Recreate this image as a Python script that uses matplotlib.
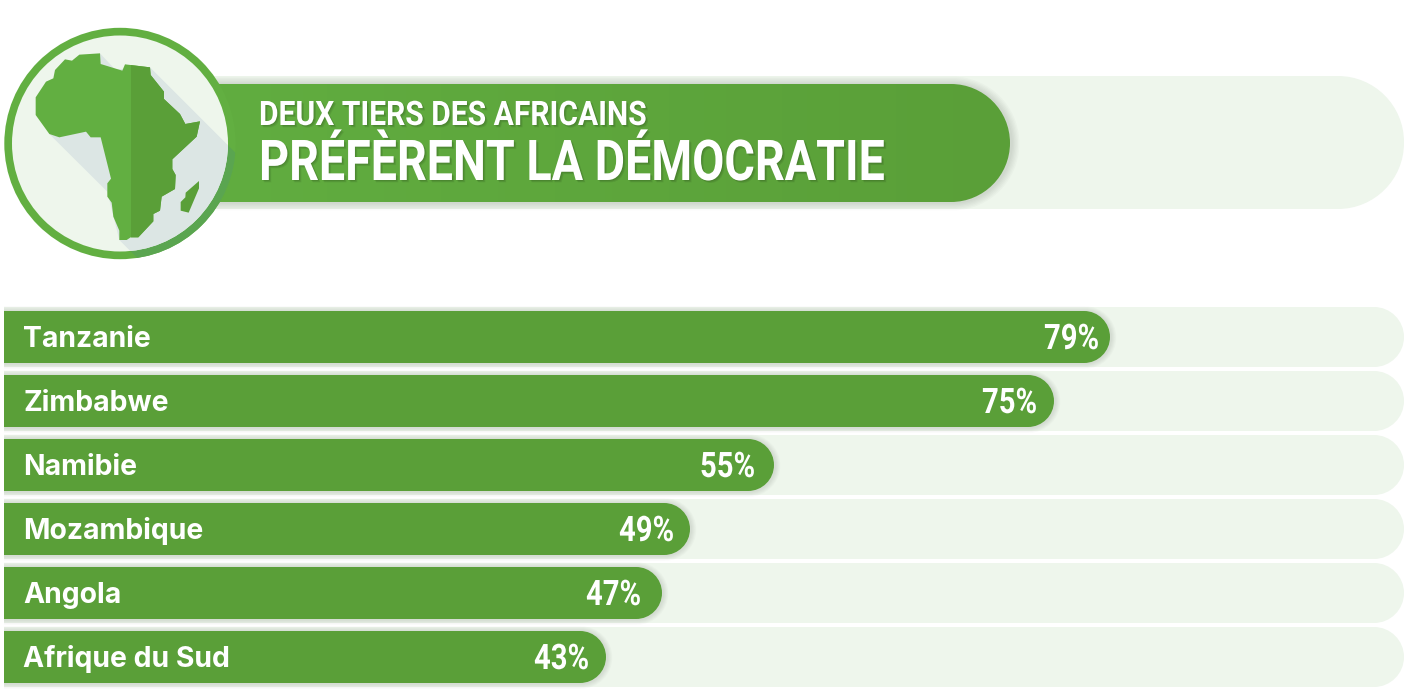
# -*- coding: utf-8 -*-
import numpy as np
import matplotlib
matplotlib.use("Agg")
import matplotlib.pyplot as plt
import matplotlib.patheffects as pe
from matplotlib.patches import PathPatch, Circle, Polygon
from matplotlib.path import Path
from matplotlib.transforms import Affine2D
from matplotlib.colors import LinearSegmentedColormap

countries = ["Tanzanie", "Zimbabwe", "Namibie", "Mozambique", "Angola", "Afrique du Sud"]
values = [79, 75, 55, 49, 47, 43]
title_top = "DEUX TIERS DES AFRICAINS"
title_main = "PRÉFÈRENT LA DÉMOCRATIE"

GREEN = "#5a9f38"
LIGHT = "#62af41"
PALE = "#eef6ec"
SHADE = "#dce6e4"

W, H = 1404, 691
PX = 14.0  # pixels per percent
pct_gap = [11, 17, 19, 16, 21, 17]  # value label to end of bar, pixels


def pill(x0, x1, y0, y1, r):
    # box with rounded corners, circular arcs
    k = 0.5523 * r
    verts = [(x0 + r, y0), (x1 - r, y0),
             (x1 - r + k, y0), (x1, y0 + r - k), (x1, y0 + r),
             (x1, y1 - r),
             (x1, y1 - r + k), (x1 - r + k, y1), (x1 - r, y1),
             (x0 + r, y1),
             (x0 + r - k, y1), (x0, y1 - r + k), (x0, y1 - r),
             (x0, y0 + r),
             (x0, y0 + r - k), (x0 + r - k, y0), (x0 + r, y0),
             (x0 + r, y0)]
    codes = [Path.MOVETO, Path.LINETO,
             Path.CURVE4, Path.CURVE4, Path.CURVE4,
             Path.LINETO,
             Path.CURVE4, Path.CURVE4, Path.CURVE4,
             Path.LINETO,
             Path.CURVE4, Path.CURVE4, Path.CURVE4,
             Path.LINETO,
             Path.CURVE4, Path.CURVE4, Path.CURVE4,
             Path.CLOSEPOLY]
    return Path(verts, codes)


def soft_shadow(ax, path, z, dx=0.0, dy=0.0, steps=6, width=1.6, alpha=0.02):
    shifted = Path(path.vertices + np.array([dx, dy]), path.codes)
    for i in range(steps, 0, -1):
        ax.add_patch(PathPatch(shifted, fc="none", ec="black", lw=i * width,
                               alpha=alpha, zorder=z))


class Squeeze(pe.AbstractPathEffect):
    # condensed look: no condensed font here, so narrow the glyphs of the text
    def __init__(self, sx, dx=0.0, shadow=0):
        super().__init__()
        self.sx = sx
        self.dx = dx
        self.shadow = shadow

    def draw_path(self, renderer, gc, tpath, affine, rgbFace=None):
        base = Affine2D().scale(self.sx, 1) + affine + Affine2D().translate(self.dx, 0)
        if self.shadow:
            for d in (1, 2, 3):
                gc0 = renderer.new_gc()
                gc0.copy_properties(gc)
                gc0.set_alpha(0.07)
                renderer.draw_path(gc0, tpath, base + Affine2D().translate(d * 0.8, -d * 0.8), (0, 0, 0))
                gc0.restore()
        renderer.draw_path(gc, tpath, base, rgbFace)


def narrow(t, width, right=False, shadow=0):
    w = t.get_window_extent(fig.canvas.get_renderer()).width
    sx = width / w
    t.set_path_effects([Squeeze(sx, dx=(1 - sx) * w if right else 0.0, shadow=shadow)])


fig = plt.figure(figsize=(W / 100, H / 100), dpi=100)

# header, in pixels
head = fig.add_axes([0, 0, 1, 1])
head.set_xlim(0, W)
head.set_ylim(H, 0)
head.axis("off")

head.add_patch(PathPatch(pill(100, 1404, 76, 209, 66), fc=PALE, ec="none", zorder=1))
banner = pill(100, 1010, 84, 202, 59)
soft_shadow(head, banner, 2, dx=1.5, dy=0.5, width=1.9)
cmap = LinearSegmentedColormap.from_list("banner", [LIGHT, GREEN])
im = head.imshow(np.linspace(0, 1, 256).reshape(1, -1), extent=(100, 1010, 202, 84),
                 cmap=cmap, aspect="auto", zorder=3)
im.set_clip_path(PathPatch(banner, transform=head.transData))
head.set_xlim(0, W)
head.set_ylim(H, 0)

# globe
cx, cy = 120, 143.5
outer = Circle((cx, cy), 115.7, fc=LIGHT, ec="none", zorder=4)
head.add_patch(outer)
africa = np.array([(300, 100), (238, 104), (216, 122), (195, 118), (165, 150), (160, 175),
                   (138, 185), (107, 232), (107, 285), (148, 342), (178, 352), (258, 335),
                   (272, 352), (302, 352), (333, 476), (322, 490), (322, 530), (335, 548),
                   (340, 590), (358, 632), (358, 660), (380, 660), (392, 652), (415, 652),
                   (460, 604), (460, 582), (480, 572), (485, 530), (525, 507), (527, 465),
                   (517, 447), (517, 418), (590, 350), (600, 304), (556, 312), (540, 282),
                   (492, 237), (492, 215), (452, 165), (450, 142), (375, 133), (367, 152),
                   (302, 132)]) / 3.0 + np.array([0, 20])
madagascar = np.array([(597, 483), (557, 518), (556, 532), (542, 546), (542, 572),
                       (566, 578), (597, 505)]) / 3.0 + np.array([0, 20])
long_shadow = np.array([(300, 100), (345, 148), (450, 142), (720, 412), (720, 720),
                        (418, 720), (358, 660), (322, 515), (148, 342)]) / 3.0 + np.array([0, 20])

ring_shade = Polygon(long_shadow, fc="#5aa550", ec="none", zorder=5)
head.add_patch(ring_shade)
ring_shade.set_clip_path(outer)
head.add_patch(Circle((cx, cy), 108, fc=PALE, ec="none", zorder=6))
inner = Circle((cx, cy), 108, transform=head.transData)
disc_shade = Polygon(long_shadow, fc=SHADE, ec="none", zorder=7)
head.add_patch(disc_shade)
disc_shade.set_clip_path(inner)
land = Polygon(africa, fc=LIGHT, ec="none", zorder=8)
head.add_patch(land)
dark_half = Polygon(africa, fc=GREEN, ec="none", zorder=9)
head.add_patch(dark_half)
half_box = head.add_patch(plt.Rectangle((392 / 3.0, 0), 200, 400, fc="none", ec="none"))
dark_half.set_clip_path(half_box)
head.add_patch(Polygon(madagascar, fc=GREEN, ec="none", zorder=9))

t1 = head.text(259, 125, title_top, family="Roboto", weight="bold", fontsize=24.3, color="white",
               va="baseline", ha="left", zorder=10)
t2 = head.text(259, 180, title_main, family="Roboto", weight="bold", fontsize=40.5, color="white",
               va="baseline", ha="left", zorder=10)
narrow(t1, 388, shadow=1)
narrow(t2, 626, shadow=1)

# bars, x axis in percent, y in the same unit so the corners stay round
bars = fig.add_axes([4 / W, 0, (W - 4) / W, 1])
bars.set_xlim(0, 100)
bars.set_ylim(H / PX, 0)
bars.axis("off")
bars.patch.set_alpha(0)

for i, (name, v) in enumerate(zip(countries, values)):
    top = (311 + 64 * i) / PX
    bottom = top + 52 / PX
    bars.add_patch(PathPatch(pill(-4, 100, top - 4 / PX, bottom + 4 / PX, 30 / PX),
                             fc=PALE, ec="none", zorder=1))
    shape = pill(-4, v, top, bottom, 26 / PX)
    soft_shadow(bars, shape, 2, dx=1.0 / PX, dy=0.5 / PX, steps=5, width=1.5)
    bars.add_patch(PathPatch(shape, fc=GREEN, ec="none", zorder=3))
    bars.text(19.3 / PX, top + 36 / PX, name, family="Inter", weight="bold", fontsize=20.4,
              color="white", va="baseline", ha="left", zorder=4)
    pct = bars.text(v - pct_gap[i] / PX, top + 38 / PX, f"{v}%", family="Roboto", weight="bold",
                    fontsize=25.3, color="white", va="baseline", ha="right", zorder=4)
    narrow(pct, 55, right=True)

fig.savefig("out.png", dpi=100)
